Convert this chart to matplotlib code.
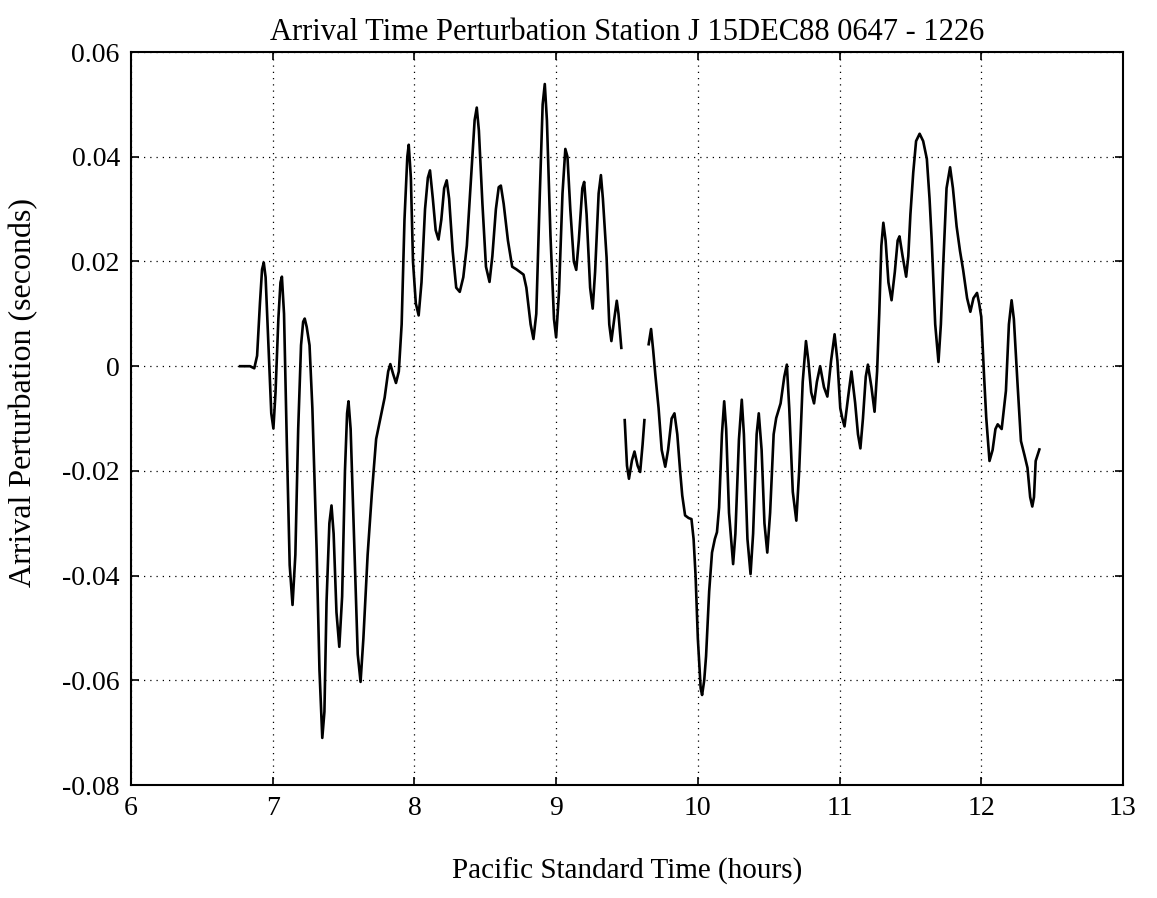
import numpy as np
import matplotlib
matplotlib.use("Agg")
from matplotlib import pyplot as plt

plt.rcParams['font.family'] = ['Liberation Serif', 'DejaVu Serif']

# trace, in three pieces (the record has two short gaps near 9.5 h)
# piece 1: 06:46 - 09:28
t1 = [6.77, 6.84, 6.87, 6.89, 6.91, 6.925, 6.937, 6.95, 6.97, 6.99,
      7.005, 7.02, 7.04, 7.055, 7.065, 7.08, 7.10, 7.12, 7.14, 7.16,
      7.18, 7.20, 7.215, 7.226, 7.24, 7.26, 7.28, 7.31, 7.33, 7.35,
      7.365, 7.38, 7.40, 7.415, 7.43, 7.45, 7.47, 7.49, 7.51, 7.525,
      7.535, 7.55, 7.58, 7.60, 7.62, 7.64, 7.67, 7.70, 7.73, 7.76,
      7.79, 7.815, 7.83, 7.85, 7.87, 7.89, 7.91, 7.93, 7.95, 7.96,
      7.975, 7.99, 8.01, 8.03, 8.05, 8.075, 8.095, 8.11, 8.13, 8.15,
      8.17, 8.19, 8.21, 8.228, 8.245, 8.27, 8.295, 8.32, 8.345, 8.37,
      8.40, 8.425, 8.44, 8.455, 8.48, 8.505, 8.53, 8.55, 8.575, 8.595,
      8.61, 8.63, 8.66, 8.69, 8.72, 8.77, 8.79, 8.82, 8.84, 8.86,
      8.885, 8.905, 8.92, 8.935, 8.96, 8.985, 9.0, 9.02, 9.045, 9.065,
      9.08, 9.10, 9.125, 9.142, 9.16, 9.185, 9.198, 9.215, 9.24, 9.258,
      9.275, 9.30, 9.316, 9.33, 9.356, 9.375, 9.39, 9.41, 9.428, 9.44,
      9.46]
p1 = [0.0, 0.0, -0.0004, 0.002, 0.012, 0.0185, 0.0198, 0.017, 0.004, -0.009,
      -0.0119, -0.005, 0.009, 0.016, 0.0171, 0.010, -0.015, -0.038, -0.0456, -0.036,
      -0.012, 0.004, 0.0085, 0.0091, 0.0075, 0.004, -0.008, -0.035, -0.058, -0.071,
      -0.066, -0.045, -0.030, -0.0266, -0.032, -0.047, -0.0536, -0.044, -0.020, -0.009,
      -0.0067, -0.012, -0.038, -0.055, -0.0603, -0.052, -0.036, -0.0242, -0.0139, -0.010,
      -0.006, -0.001, 0.0004, -0.0015, -0.0032, -0.001, 0.008, 0.028, 0.040, 0.0423,
      0.036, 0.020, 0.012, 0.0097, 0.016, 0.030, 0.036, 0.0374, 0.032, 0.026,
      0.0242, 0.028, 0.034, 0.0355, 0.032, 0.022, 0.015, 0.0142, 0.017, 0.023,
      0.036, 0.047, 0.0494, 0.045, 0.031, 0.019, 0.0161, 0.021, 0.030, 0.0342,
      0.0345, 0.031, 0.024, 0.019, 0.0185, 0.0175, 0.015, 0.008, 0.0052, 0.010,
      0.033, 0.050, 0.0539, 0.047, 0.025, 0.009, 0.0055, 0.014, 0.033, 0.0415,
      0.040, 0.030, 0.020, 0.0184, 0.024, 0.034, 0.0352, 0.029, 0.015, 0.011,
      0.018, 0.033, 0.0365, 0.032, 0.0208, 0.008, 0.0048, 0.009, 0.0125, 0.010,
      0.0035]

# piece 2: short stretch between the gaps
t2 = [9.484, 9.50, 9.514, 9.535, 9.553, 9.575, 9.593, 9.61, 9.623]
p2 = [-0.0103, -0.019, -0.0215, -0.018, -0.0163, -0.019, -0.0202, -0.015, -0.0103]

# piece 3: 09:39 - 12:25
t3 = [9.653, 9.67, 9.685, 9.70, 9.723, 9.745, 9.77, 9.79, 9.815, 9.835,
      9.855, 9.875, 9.89, 9.91, 9.935, 9.955, 9.97, 9.984, 10.0, 10.02,
      10.03, 10.045, 10.058, 10.08, 10.10, 10.12, 10.135, 10.15, 10.17, 10.186,
      10.20, 10.22, 10.249, 10.265, 10.29, 10.31, 10.325, 10.35, 10.372, 10.39,
      10.415, 10.43, 10.45, 10.47, 10.49, 10.51, 10.535, 10.553, 10.584, 10.61,
      10.628, 10.645, 10.67, 10.695, 10.715, 10.74, 10.763, 10.78, 10.80, 10.82,
      10.84, 10.863, 10.89, 10.914, 10.94, 10.965, 10.985, 11.005, 11.019, 11.035,
      11.06, 11.084, 11.11, 11.13, 11.147, 11.165, 11.185, 11.2, 11.225, 11.247,
      11.265, 11.28, 11.295, 11.309, 11.325, 11.345, 11.367, 11.39, 11.41, 11.423,
      11.445, 11.47, 11.485, 11.50, 11.52, 11.54, 11.565, 11.59, 11.616, 11.635,
      11.65, 11.675, 11.698, 11.715, 11.733, 11.755, 11.78, 11.80, 11.826, 11.85,
      11.872, 11.90, 11.923, 11.945, 11.97, 11.985, 12.0, 12.02, 12.035, 12.058,
      12.08, 12.10, 12.116, 12.144, 12.174, 12.195, 12.214, 12.23, 12.256, 12.28,
      12.305, 12.326, 12.345, 12.36, 12.372, 12.384, 12.41]
p3 = [0.0042, 0.0071, 0.003, -0.0016, -0.008, -0.016, -0.0192, -0.016, -0.010, -0.009,
      -0.013, -0.020, -0.0247, -0.0285, -0.029, -0.0292, -0.033, -0.040, -0.052, -0.0615,
      -0.0628, -0.060, -0.0554, -0.043, -0.0356, -0.033, -0.0317, -0.027, -0.013, -0.0067,
      -0.012, -0.028, -0.0378, -0.032, -0.014, -0.0064, -0.013, -0.033, -0.0397, -0.032,
      -0.013, -0.009, -0.016, -0.030, -0.0356, -0.028, -0.013, -0.0099, -0.0071, -0.002,
      0.0003, -0.008, -0.024, -0.0295, -0.020, -0.003, 0.0048, 0.001, -0.005, -0.0071,
      -0.003, 0.0, -0.004, -0.0058, 0.001, 0.0061, 0.001, -0.008, -0.0099, -0.0115,
      -0.006, -0.001, -0.007, -0.013, -0.0157, -0.010, -0.002, 0.0003, -0.004, -0.0087,
      -0.001, 0.010, 0.023, 0.0274, 0.024, 0.016, 0.0126, 0.018, 0.024, 0.0248,
      0.021, 0.0171, 0.021, 0.029, 0.037, 0.043, 0.0444, 0.043, 0.0396, 0.032,
      0.0242, 0.008, 0.0008, 0.008, 0.0203, 0.034, 0.038, 0.034, 0.0267, 0.022,
      0.0184, 0.013, 0.0104, 0.013, 0.014, 0.012, 0.0094, -0.002, -0.0098, -0.0181,
      -0.016, -0.012, -0.0111, -0.012, -0.0047, 0.008, 0.0126, 0.009, -0.0034, -0.0143,
      -0.017, -0.0194, -0.025, -0.0268, -0.025, -0.0181, -0.0159]

xticks = [6, 7, 8, 9, 10, 11, 12, 13]
yticks = [-0.08, -0.06, -0.04, -0.02, 0, 0.02, 0.04, 0.06]
ytick_labels = ['-0.08', '-0.06', '-0.04', '-0.02', '0', '0.02', '0.04', '0.06']

fig = plt.figure(figsize=(11.57, 8.98), dpi=100)
ax = fig.add_axes([0.1132, 0.1258, 0.8574, 0.8162])
for t, p in [(t1, p1), (t2, p2), (t3, p3)]:
    ax.plot(t, p, color='black', lw=1.9, solid_joinstyle='round')

ax.set_xlim(6, 13)
ax.set_ylim(-0.08, 0.06)
ax.set_xticks(xticks)
ax.set_yticks(yticks)
ax.set_yticklabels(ytick_labels)
ax.tick_params(direction='in', top=True, right=True, length=6, width=1.2,
               labelsize=20, pad=8)
ax.grid(True, color='black', linestyle=(0, (1, 4)), lw=0.9)
for s in ax.spines.values():
    s.set_linewidth(1.5)

ax.set_title('Arrival Time Perturbation Station J 15DEC88 0647 - 1226', fontsize=22, pad=9)
ax.set_xlabel('Pacific Standard Time (hours)', fontsize=21, labelpad=26)
ax.set_ylabel('Arrival Perturbation (seconds)', fontsize=23, labelpad=4)
ax.yaxis.set_label_coords(-0.093, 0.535)

fig.savefig('out.png', dpi=100)
